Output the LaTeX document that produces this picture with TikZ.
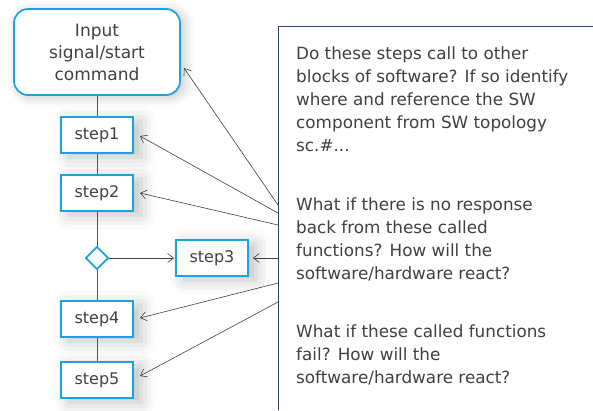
\documentclass[tikz,border=0pt]{standalone}
\usepackage{fontspec}
\setmainfont{DejaVu Sans}
\usetikzlibrary{shapes.geometric,arrows.meta,shadows.blur}
\definecolor{cyanb}{HTML}{1AA3DD}
\definecolor{txt}{HTML}{404040}
\definecolor{navy}{HTML}{2E3F6E}
\tikzset{
  softshadow/.style={blur shadow={shadow xshift=8pt, shadow yshift=-4pt, shadow blur radius=14pt, shadow opacity=25}},
  stepbox/.style={draw=cyanb, line width=1.7pt, fill=white, minimum width=72pt, minimum height=36pt, inner sep=0pt, text=txt, font=\fontsize{16}{19}\selectfont, softshadow},
  link/.style={draw=txt!90, line width=0.9pt},
  callout/.style={draw=txt, line width=0.6pt, -{Straight Barb[length=6pt,width=9pt]}},
  note/.style={anchor=north west, inner sep=0pt, align=left, text=txt, font=\fontsize{16.8}{23}\selectfont}
}
\begin{document}
\begin{tikzpicture}[x=1pt,y=-1pt]
\useasboundingbox (0,0) rectangle (593,410);
% right note box
\fill[white] (278,26) rectangle (593,410);
\draw[navy, line width=0.8pt] (278,410) -- (278,26) -- (593,26);
\node[note] (p1) at (296,47) {Do these steps call to other\\blocks of software? If so identify\\where and reference the SW\\component from SW topology\\sc.\#...};
\node[note] (p2) at (296,198) {What if there is no response\\back from these called\\functions? How will the\\software/hardware react?};
\node[note] (p3) at (296,325) {What if these called functions\\fail? How will the\\software/hardware react?};
\coordinate (c0) at (278,205);
\coordinate (c1) at (278,213);
\coordinate (c2) at (278,225);
\coordinate (c3) at (278,258);
\coordinate (c4) at (278,283);
\coordinate (c5) at (278,302);
% left flow
\node[stepbox, rounded corners=14pt, minimum width=166pt, minimum height=86pt, align=center, font=\fontsize{17}{22}\selectfont, blur shadow={shadow xshift=4pt, shadow yshift=-2pt, shadow blur radius=10pt, shadow opacity=12}] (in) at (97,52) {Input\\signal/start\\command};
\node[stepbox] (s1) at (97,135) {step1};
\node[stepbox] (s2) at (97,193) {step2};
\node[draw=cyanb, line width=1.7pt, fill=white, diamond, minimum width=23pt, minimum height=23pt, inner sep=0pt] (d) at (97,258) {};
\node[stepbox] (s3) at (212,258) {step3};
\node[stepbox] (s4) at (97,319) {step4};
\node[stepbox] (s5) at (97,380) {step5};
\draw[link] (in) -- (s1);
\draw[link] (s1) -- (s2);
\draw[link] (s2) -- (d);
\draw[link] (d) -- (s4);
\draw[link] (s4) -- (s5);
\draw[callout] (d.east) -- ([xshift=-1pt]s3.west);
% callouts
\draw[callout] (c0) -- (184,68);
\draw[callout] (c1) -- (140,136);
\draw[callout] (c2) -- (140,193);
\draw[callout] (c3) -- ([xshift=4pt]s3.east);
\draw[callout] (c4) -- (140,318);
\draw[callout] (c5) -- (140,376);
\end{tikzpicture}
\end{document}
